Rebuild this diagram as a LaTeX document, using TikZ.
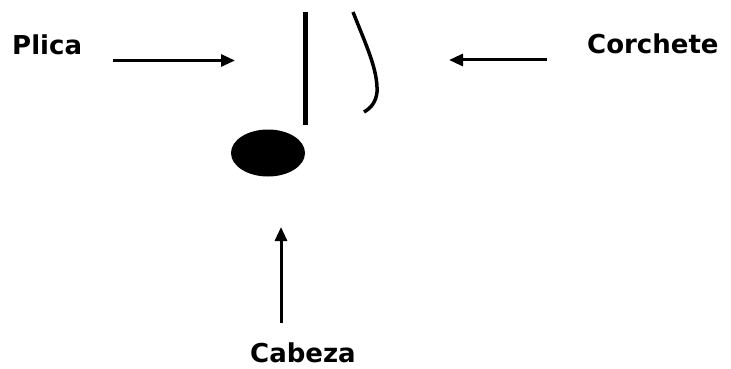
\documentclass[tikz,border=0pt]{standalone}
\usepackage{fontspec}
\setmainfont{DejaVu Sans}
\usetikzlibrary{arrows.meta}
\begin{document}
\begin{tikzpicture}[x=1pt,y=-1pt,
  lbl/.style={font=\fontsize{26}{30}\selectfont\bfseries, inner sep=0pt, anchor=base west},
  pointer/.style={line width=3pt, -{Triangle[length=14pt,width=12pt]}},
  ink/.style={line width=5pt}]
\useasboundingbox (0,0) rectangle (731,369);
\node[lbl] (plica) at (12,55) {Plica};
\node[lbl] (corchete) at (587,54) {Corchete};
\node[lbl] (cabeza) at (250,362) {Cabeza};
\coordinate (p1) at (113,60.5);
\coordinate (p2) at (235,60.5);
\coordinate (c1) at (547,60);
\coordinate (c2) at (449,60);
\coordinate (k1) at (281,323);
\coordinate (k2) at (281,227);
\draw[pointer] (p1) -- (p2);
\draw[pointer] (c1) -- (c2);
\draw[pointer] (k1) -- (k2);
% note
\fill (268,153) ellipse [x radius=37, y radius=23.5];
\draw[ink] (305.7,12) -- (305.7,125);
\draw[line width=3.5pt] (353,12) .. controls (366,45) and (378,70) .. (377,92) .. controls (376,102) and (371,108) .. (364,112);
\end{tikzpicture}
\end{document}
